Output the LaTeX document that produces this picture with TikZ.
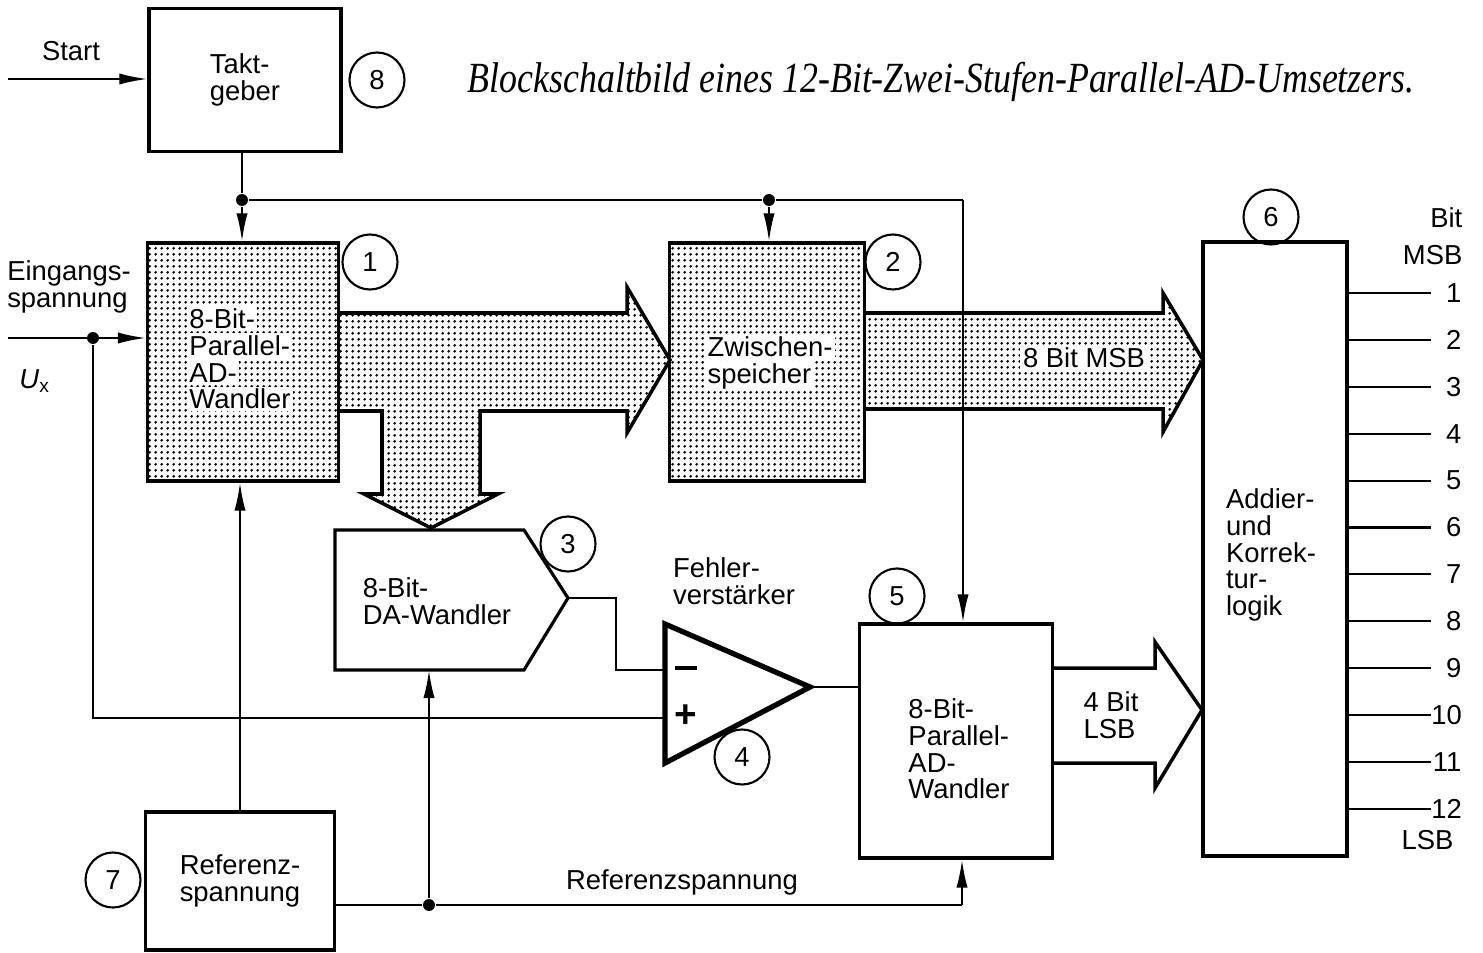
\documentclass[tikz,border=0pt]{standalone}
\usepackage{fontspec}
\setmainfont{Liberation Sans}
\newfontfamily\titlefont{Liberation Serif}
\usetikzlibrary{arrows.meta,patterns.meta}

\tikzdeclarepattern{
  name=stipple,
  type=uncolored,
  bounding box={(0pt,0pt) and (1.75pt,1.75pt)},
  tile size={(1.75pt,1.75pt)},
  code={\pgfpathcircle{\pgfqpoint{0.875pt}{0.875pt}}{0.48pt}\pgfusepath{fill}}
}

\newcommand{\wbx}[1]{{\setlength{\fboxsep}{0.6pt}\colorbox{white}{#1}}}

\tikzset{
  blk/.style={draw, line width=0.9pt, inner sep=0pt},
  stip/.style={pattern=stipple},
  conn/.style={line width=0.6pt},
  pfeil/.style={conn, -{Latex[length=8pt,width=3.2pt]}},
  bus/.style={line width=1pt, line join=miter},
  opv/.style={line width=1.5pt, line join=miter},
  num/.style={draw, circle, line width=0.6pt, minimum size=0.55cm, inner sep=0pt},
  dot/.style={circle, fill, inner sep=0pt, minimum size=3.4pt},
  bitnr/.style={text width=3mm, align=right, inner sep=0pt},
  wtxt/.style={align=left, inner sep=0pt, execute at begin node={\lineskiplimit=-\maxdimen}}
}

\begin{document}
\begin{tikzpicture}[x=0.1mm,y=-0.1mm,font=\fontsize{7.8}{7.6}\selectfont]
\useasboundingbox (0,0) rectangle (1483,952);

% Titel
\node[anchor=base west, inner sep=0pt] (titel) at (467,93)
  {\scalebox{1}[1.2]{\titlefont\itshape\fontsize{10.2}{12}\selectfont Blockschaltbild eines 12-Bit-Zwei-Stufen-Parallel-AD-Umsetzers.}};

% Datenbusse (unter den Bloecken)
\draw[bus,stip] (338,313) -- (627,313) -- (627,287) -- (670,360) -- (627,433) -- (627,411)
  -- (480,411) -- (480,494) -- (498,494) -- (431,528) -- (364,494) -- (382,494) -- (382,411) -- (338,411);
\draw[bus,stip] (865,313) -- (1163,313) -- (1163,293) -- (1203,360) -- (1163,432) -- (1163,409) -- (865,409);
\draw[bus] (1053,668) -- (1155,668) -- (1155,642) -- (1202,710) -- (1155,788) -- (1155,763) -- (1053,763);

% Bloecke
\node[blk, minimum width=1.92cm, minimum height=1.43cm, align=left] (takt) at (245,80) {Takt-\\geber};
\node[blk, stip, minimum width=1.91cm, minimum height=2.38cm] (adc1) at (243,362) {};
\node[wtxt] (adc1txt) at (240,359) {\wbx{8-Bit-}\\\wbx{Parallel-}\\\wbx{AD-}\\\wbx{Wandler}};
\node[blk, stip, minimum width=1.95cm, minimum height=2.38cm] (zw) at (767,362) {};
\node[wtxt] (zwtxt) at (770,363) {\wbx{Zwischen-}\\\wbx{speicher}};
\node[blk, minimum width=1.44cm, minimum height=6.14cm] (add) at (1275,549) {};
\node[align=left] (addtxt) at (1271,555) {Addier-\\und\\Korrek-\\tur-\\logik};
\node[blk, minimum width=1.93cm, minimum height=2.34cm] (adc5) at (956,741) {};
\node[align=left] (adc5txt) at (959,749) {8-Bit-\\Parallel-\\AD-\\Wandler};
\node[blk, minimum width=1.89cm, minimum height=1.38cm, align=left] (ref) at (240,881) {Referenz-\\spannung};

% DA-Wandler
\draw[blk] (335,530) -- (524,530) -- (568,598) -- (524,670) -- (335,670) -- cycle;
\coordinate (daout) at (568,598);
\coordinate (dabot) at (429,670);
\coordinate (dak) at (616,598);
\node[align=left] (datxt) at (437,601) {8-Bit-\\DA-Wandler};

% Fehlerverstaerker
\draw[opv] (665,624) -- (810,687) -- (665,763) -- cycle;
\coordinate (opm) at (665,670);
\coordinate (opp) at (665,718);
\coordinate (opo) at (810,687);
\node[font=\fontsize{11}{11}\bfseries\selectfont] (minus) at (686,668) {\rule{6.3pt}{1.1pt}};
\node[font=\fontsize{11}{11}\bfseries\selectfont] (plus) at (686,716) {+};
\node[align=left] (fvtxt) at (734,581) {Fehler-\\verstärker};

% Nummern
\node[num] (n1) at (370,262) {1};
\node[num] (n2) at (893,262) {2};
\node[num] (n3) at (568,544) {3};
\node[num] (n4) at (742,757) {4};
\node[num] (n5) at (897,596) {5};
\node[num] (n6) at (1271,217) {6};
\node[num] (n7) at (113,880) {7};
\node[num] (n8) at (377,80) {8};

% Takt
\coordinate (st) at (8,79);
\node (starttxt) at (71,51) {Start};
\draw[pfeil] (st) -- (st -| takt.west);
\node[dot] (tk) at (242,200) {};
\node[dot] (tz) at (769,200) {};
\coordinate (tr) at (963,200);
\draw[conn] (tk |- takt.south) -- (tk);
\draw[pfeil] (tk) -- (tk |- adc1.north);
\draw[conn] (tk) -- (tz) -- (tr);
\draw[pfeil] (tz) -- (tz |- zw.north);
\draw[pfeil] (tr) -- (tr |- adc5.north);

% Eingang
\coordinate (ue) at (8,338);
\node[dot] (ux) at (93,338) {};
\node[align=left] (eintxt) at (69,287) {Eingangs-\\spannung};
\node (uxtxt) at (35,381) {\textit{U}\textsubscript{x}};
\draw[pfeil] (ue) -- (ue -| adc1.west);
\draw[conn] (ux) |- (opp);

% Fehlerpfad
\draw[conn] (daout) -- (dak) |- (opm);
\draw[conn] (opo) -- (opo -| adc5.west);

% Referenz
\node[dot] (rd) at (429,905) {};
\coordinate (re) at (962,905);
\node (reftxt) at (682,882) {Referenzspannung};
\draw[pfeil] (ref.north) -- (ref.north |- adc1.south);
\draw[conn] (rd -| ref.east) -- (rd) -- (re);
\draw[pfeil] (re) -- (re |- adc5.south);
\draw[pfeil] (rd) -- (dabot);

% Bus-Beschriftungen
\node[fill=white, inner sep=0.8pt] (msb8) at (1084,358) {8 Bit MSB};
\node[align=left] (lsb4) at (1111,715) {4 Bit\\LSB};

% Ausgaenge
\foreach \i in {1,...,12} {
  \node[bitnr, anchor=east] (b\i) at (1462,{293+(\i-1)*46.9}) {\i};
  \draw[conn] (add.east |- b\i) -- (b\i.west);
}
\node[anchor=east, inner sep=0pt] (bitl) at (1463,218) {Bit};
\node[anchor=east, inner sep=0pt] (msbl) at (1463,255) {MSB};
\node[anchor=east, inner sep=0pt] (lsbl) at (1454,840) {LSB};
\end{tikzpicture}
\end{document}
